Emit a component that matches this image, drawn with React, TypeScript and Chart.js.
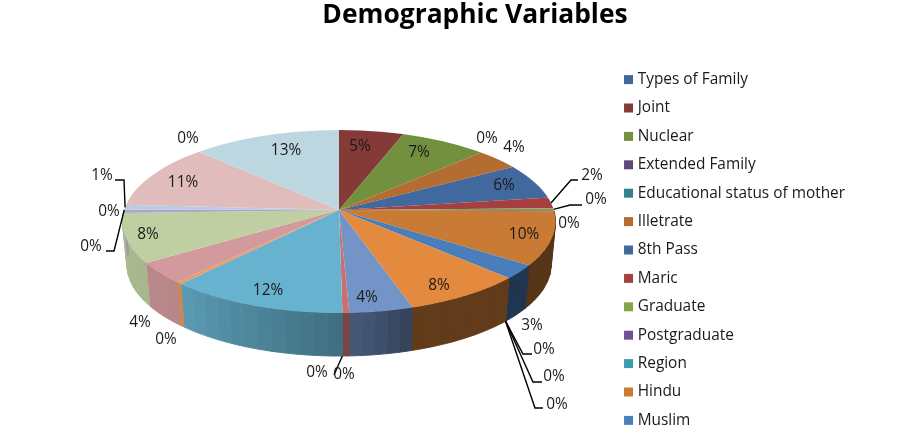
import React, { useEffect, useRef } from "react";
import { Chart, registerables } from "chart.js";

Chart.register(...registerables);

const chartTitle = "Demographic Variables";

const categories = [
  "Types of Family", "Joint", "Nuclear", "Extended Family", "Educational status of mother",
  "Illetrate", "8th Pass", "Maric", "Graduate", "Postgraduate", "Region", "Hindu", "Muslim",
  "", "", "", "", "", "", "", "", "", "", "", "", "", "", "", "", "",
];

const shares = [
  0, 4.8, 6.9, 0, 0, 3.8, 6.8, 2.2, 0.4, 0.1, 0, 8.5, 2.4, 0, 0, 0, 8.3, 4.7, 0.5, 0,
  12.8, 0.35, 3.65, 7.8, 0.5, 0, 1, 12.3, 0, 11.5,
];

const shownPercents = [
  "", "5%", "7%", "0%", "", "4%", "6%", "2%", "0%", "0%", "", "10%", "3%", "0%", "0%", "0%",
  "8%", "4%", "0%", "0%", "12%", "0%", "4%", "8%", "0%", "0%", "1%", "11%", "0%", "13%",
];

const sliceColors = [
  "#3f6797", "#843a37", "#73903f", "#5d4a7c", "#35808f", "#b46c30", "#41699d", "#a63f3f",
  "#87a34a", "#6e5296", "#3f9bb0", "#c97a34", "#4a7ebb", "#a63f3f", "#87a34a", "#6e5296",
  "#e38a3f", "#7494c8", "#c97070", "#a6c06c", "#67b2cf", "#f0995a", "#d29a9c", "#bfcfa1",
  "#b0a5c8", "#93c9d9", "#b8cde3", "#e0bcbc", "#d0c0e0", "#bdd7e0",
];

// Layout of the percent labels: [index, x, y]
const labelSpots: [number, number, number][] = [
  [1, 360, 147], [2, 419, 153], [3, 487, 139], [5, 514, 148], [6, 504, 186], [7, 592, 176],
  [8, 596, 200], [9, 569, 224], [11, 524, 235], [12, 532, 326], [13, 544, 350], [14, 554, 377],
  [15, 557, 405], [16, 439, 286], [17, 367, 298], [18, 317, 373], [19, 344, 375], [20, 268, 291],
  [21, 166, 340], [22, 140, 323], [23, 148, 235], [24, 109, 212], [25, 91, 247], [26, 102, 176],
  [27, 183, 183], [28, 188, 139], [29, 286, 151],
];

// Leader lines: slice index and the elbow/end they run through after leaving the rim
const leaders: [number, number, number, number, number][] = [
  [7, 571, 180, 578, 180],
  [8, 570, 205, 582, 205],
  [13, 523, 354, 532, 354],
  [14, 533, 382, 542, 382],
  [15, 535, 408, 543, 408],
  [19, 334, 375, 334, 375],
  [25, 114, 251, 106, 251],
  [26, 124, 180, 115, 180],
];

const PIE = { cx: 339, cy: 210, rx: 216.5, up: 80, down: 103, ex: 339, ey: 221.5, ery: 91.5, depth: 43, shrink: 0.98 };
const OVER = 1.3;
const LABEL_FONT = '15.4px "Open Sans"';

function direction(a: number) {
  const s = Math.sin(a);
  return { x: Math.cos(a) * PIE.rx, y: s * (s < 0 ? PIE.up : PIE.down) };
}

function rim(a: number) {
  const d = direction(a);
  const oy = PIE.cy - PIE.ey;
  const A = (d.x * d.x) / (PIE.rx * PIE.rx) + (d.y * d.y) / (PIE.ery * PIE.ery);
  const B = (2 * oy * d.y) / (PIE.ery * PIE.ery);
  const C = (oy * oy) / (PIE.ery * PIE.ery) - 1;
  const t = (-B + Math.sqrt(B * B - 4 * A * C)) / (2 * A);
  return { x: PIE.cx + d.x * t, y: PIE.cy + d.y * t };
}

function sideShade(a: number) {
  const deg = (((a + Math.PI / 2) * 180) / Math.PI + 360) % 360;
  const stops = [[0, 0.43], [160, 0.43], [170, 0.55], [180, 0.62], [225, 0.87], [270, 0.9], [360, 0.9]];
  for (let i = 1; i < stops.length; i++) {
    if (deg <= stops[i][0]) {
      const f = (deg - stops[i - 1][0]) / (stops[i][0] - stops[i - 1][0]);
      return stops[i - 1][1] + f * (stops[i][1] - stops[i - 1][1]);
    }
  }
  return 0.9;
}

function shaded(hex: string, f: number) {
  const n = parseInt(hex.slice(1), 16);
  return `rgb(${((n >> 16) & 255) * f},${((n >> 8) & 255) * f},${(n & 255) * f})`;
}

function applyHalf(ctx: CanvasRenderingContext2D, arc: any, upper: boolean) {
  ctx.beginPath();
  ctx.ellipse(PIE.ex, PIE.ey, PIE.rx, PIE.ery, 0, 0, Math.PI * 2);
  ctx.clip();
  ctx.beginPath();
  if (upper) ctx.rect(0, 0, 902, PIE.cy + 0.5);
  else ctx.rect(0, PIE.cy, 902, 439 - PIE.cy);
  ctx.clip();
  const r = arc.outerRadius;
  ctx.translate(PIE.cx, PIE.cy);
  ctx.scale((OVER * PIE.rx) / r, (OVER * (upper ? PIE.up : PIE.down)) / r);
  ctx.translate(-arc.x, -arc.y);
}

const pie3d = {
  id: "pie3d",
  beforeDatasetsDraw(chart: any) {
    const ctx = chart.ctx;
    const arcs = chart.getDatasetMeta(0).data;
    ctx.save();
    ctx.lineWidth = 1;
    arcs.forEach((arc: any, i: number) => {
      const steps = Math.max(1, Math.ceil((arc.endAngle - arc.startAngle) / 0.07));
      for (let k = 0; k < steps; k++) {
        const a1 = arc.startAngle + ((arc.endAngle - arc.startAngle) * k) / steps;
        const a2 = arc.startAngle + ((arc.endAngle - arc.startAngle) * (k + 1)) / steps;
        if (a1 === a2) continue;
        const path: { x: number; y: number }[] = [];
        for (let j = 0; j <= 6; j++) path.push(rim(a1 + ((a2 - a1) * j) / 6));
        if (path[0].y < PIE.ey - 10 && path[6].y < PIE.ey - 10) continue;
        const low = (p: any) => ({ x: PIE.ex + (p.x - PIE.ex) * PIE.shrink, y: p.y + PIE.depth });
        const c = shaded(sliceColors[i], sideShade((a1 + a2) / 2));
        ctx.fillStyle = c;
        ctx.strokeStyle = c;
        ctx.beginPath();
        path.forEach((p, j) => (j ? ctx.lineTo(p.x, p.y) : ctx.moveTo(p.x, p.y)));
        path
          .slice()
          .reverse()
          .forEach((p) => {
            const q = low(p);
            ctx.lineTo(q.x, q.y);
          });
        ctx.closePath();
        ctx.fill();
        ctx.stroke();
      }
    });
    ctx.restore();
  },
  beforeDatasetDraw(chart: any) {
    chart.ctx.save();
    applyHalf(chart.ctx, chart.getDatasetMeta(0).data[0], true);
  },
  afterDatasetDraw(chart: any) {
    const ctx = chart.ctx;
    ctx.restore();
    const arcs = chart.getDatasetMeta(0).data;
    ctx.save();
    applyHalf(ctx, arcs[0], false);
    arcs.forEach((a: any) => a.draw(ctx));
    ctx.restore();
  },
  afterDatasetsDraw(chart: any) {
    const ctx = chart.ctx;
    const arcs = chart.getDatasetMeta(0).data;
    ctx.save();
    ctx.strokeStyle = "#000";
    ctx.lineWidth = 1.4;
    leaders.forEach(([i, x1, y1, x2, y2]) => {
      const a = (arcs[i].startAngle + arcs[i].endAngle) / 2;
      let p = rim(a);
      if (Math.sin(a) > 0.15) p = { x: PIE.ex + (p.x - PIE.ex) * PIE.shrink, y: p.y + PIE.depth };
      ctx.beginPath();
      ctx.moveTo(p.x, p.y);
      ctx.lineTo(x1, y1);
      ctx.lineTo(x2, y2);
      ctx.stroke();
    });
    ctx.font = LABEL_FONT;
    ctx.fillStyle = "#1a1a1a";
    ctx.textAlign = "center";
    ctx.textBaseline = "middle";
    labelSpots.forEach(([i, x, y]) => ctx.fillText(shownPercents[i], x, y));
    ctx.restore();
  },
};

export default function App() {
  const ref = useRef<HTMLCanvasElement>(null);
  useEffect(() => {
    const chart = new Chart(ref.current!, {
      type: "pie",
      data: {
        labels: categories,
        datasets: [{ data: shares, backgroundColor: sliceColors, borderWidth: 0, clip: false }],
      },
      options: {
        animation: false,
        responsive: false,
        devicePixelRatio: 1,
        layout: { padding: { left: 95, right: 47, top: 0, bottom: -61 } },
        plugins: {
          title: {
            display: true,
            text: chartTitle,
            color: "#000",
            font: { family: '"Open Sans"', size: 26.4, weight: "bold" },
            padding: { top: 0, bottom: 28 },
          },
          legend: {
            position: "right",
            labels: {
              usePointStyle: true,
              pointStyle: "rect",
              boxWidth: 3,
              boxHeight: 9,
              padding: 13,
              color: "#1a1a1a",
              font: { family: '"Open Sans"', size: 15.4 },
              filter: (item: any) => item.text !== "",
            },
          },
          tooltip: { enabled: false },
        },
      },
      plugins: [pie3d],
    } as any);
    return () => chart.destroy();
  }, []);
  return (
    <div style={{ position: "fixed", left: 0, top: 0, width: 902, height: 439, background: "#fff" }}>
      <canvas ref={ref} width={902} height={439} style={{ display: "block", width: 902, height: 439 }} />
    </div>
  );
}
